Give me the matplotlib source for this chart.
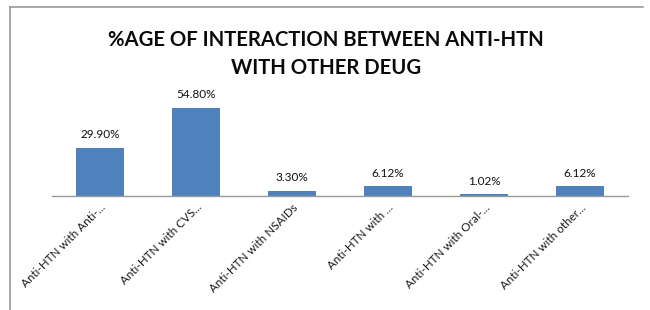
import matplotlib
matplotlib.use("Agg")
import matplotlib.pyplot as plt
from matplotlib.lines import Line2D

categories = ["Anti-HTN with Anti-...", "Anti-HTN with CVS...", "Anti-HTN with NSAIDs",
              "Anti-HTN with ...", "Anti-HTN with Oral-...", "Anti-HTN with other..."]
values = [29.90, 54.80, 3.30, 6.12, 1.02, 6.12]
labels = ["29.90%", "54.80%", "3.30%", "6.12%", "1.02%", "6.12%"]
title_lines = ["%AGE OF INTERACTION BETWEEN ANTI-HTN", "WITH OTHER DEUG"]

plt.rcParams['font.family'] = ['Lato', 'DejaVu Sans']

fig = plt.figure(figsize=(6.5, 3.1), dpi=100)
W, H = 650, 310
ax = fig.add_axes([52 / W, 1 - 196 / H, 576 / W, 96.4 / H])

x = list(range(len(categories)))
bars = ax.bar(x, values, width=0.51, color="#4F81BD", zorder=2)
ax.set_xlim(-0.5, len(categories) - 0.5)
ax.set_ylim(0, 60)
for xi, v, lab in zip(x, values, labels):
    ax.annotate(lab, (xi, v), xytext=(0, 5.5), textcoords="offset points",
                ha="center", va="bottom", fontsize=8.5, color="#111111")

ax.set_yticks([])
ax.set_xticks(x)
ax.set_xticklabels(categories, rotation=45, ha="right", rotation_mode="anchor",
                   fontsize=8.4, color="#1a1a1a")
ax.tick_params(axis="x", length=0, pad=4)
for s in ["top", "right", "left"]:
    ax.spines[s].set_visible(False)
ax.spines["bottom"].set_color("#9a9a9a")
ax.spines["bottom"].set_linewidth(1.0)

fig.text(326 / W, 1 - 40 / H, title_lines[0], ha="center", va="center",
         fontsize=14.6, fontweight="bold", color="#0a0a0a")
fig.text(326 / W, 1 - 68 / H, title_lines[1], ha="center", va="center",
         fontsize=14.6, fontweight="bold", color="#0a0a0a")

# chart frame (top and left edges visible)
fig.add_artist(Line2D([10 / W, 643 / W], [1 - 7 / H, 1 - 7 / H], color="#999999", lw=1.2,
                      transform=fig.transFigure))
fig.add_artist(Line2D([10 / W, 10 / W], [1 - 7 / H, 0], color="#999999", lw=1.2,
                      transform=fig.transFigure))

fig.savefig("out.png", dpi=100)
